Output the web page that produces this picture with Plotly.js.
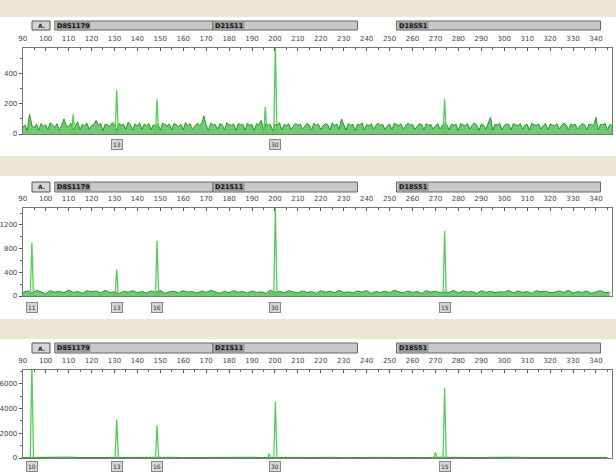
<!DOCTYPE html>
<html><head><meta charset="utf-8">
<script src="https://cdn.plot.ly/plotly-3.0.1.min.js"></script>
<style>html,body{margin:0;padding:0;background:#fff}#chart{width:616px;height:472px}</style>
</head><body><div id="chart"></div>
<script>
// ---------- data ----------
const sizeTicks = [90,100,110,120,130,140,150,160,170,180,190,200,210,220,230,240,250,260,270,280,290,300,310,320,330,340];
const markerNames = ['D8S1179','D21S11','D18S51'];
const markerStart = [104, 173, 253];
const markerEnd   = [173, 236, 342];

// panel 1 baseline noise, 1 bp steps from 90
const p1NoiseStart = 90, p1NoiseStep = 1;
const p1Noise = [
45,60,22,130,58,40,66,25,70,48,62,30,75,58,44,68,22,60,100,55,
48,70,32,54,80,28,66,50,72,30,55,64,90,58,70,22,66,60,48,75,
62,25,70,58,64,30,78,60,26,68,52,74,30,66,55,70,28,62,50,68,
26,72,60,54,66,28,70,62,50,64,28,76,55,68,30,52,70,58,66,120,
60,24,72,58,64,30,68,60,26,74,62,58,66,22,70,60,64,26,72,58,
62,24,68,60,90,26,70,58,64,22,66,60,74,28,62,56,68,30,54,70,
58,66,32,52,70,60,26,72,58,64,30,54,68,62,28,74,56,66,30,100,
62,26,70,58,64,22,66,60,74,28,62,54,68,30,56,72,58,64,30,54,
66,28,70,62,56,68,30,54,72,58,64,30,52,68,62,28,70,56,64,30,
54,68,32,58,72,60,26,66,58,64,22,70,60,56,68,32,58,74,60,24,
66,58,32,70,110,26,64,60,72,28,54,66,62,28,70,60,56,68,32,58,
64,24,72,60,58,66,32,56,70,28,64,60,54,68,32,58,72,60,26,66,
58,64,30,54,70,62,28,66,60,56,110,28,64,60,70,26,62,58];
const p1PeakPos = [112, 131, 148.6, 195.8, 200.2, 274];
const p1PeakHt  = [130, 290, 230, 180, 600, 230];
const p1Alleles = ['13','30'];
const p1AllelePos = [131, 200.2];

// panel 2 baseline noise, 2 bp steps from 90
const p2NoiseStart = 90, p2NoiseStep = 2;
const p2Noise = [
60,85,50,95,70,40,90,65,80,55,100,60,75,45,90,70,85,50,95,60,
70,40,80,65,90,55,75,50,85,60,95,45,70,80,55,90,65,75,50,85,
60,95,70,45,80,55,90,65,75,50,85,60,70,45,95,65,80,55,90,70,
50,85,60,75,45,90,65,80,55,95,60,70,50,85,65,90,45,75,60,80,
55,95,70,50,85,60,75,45,90,65,80,55,70,60,95,50,85,65,75,45,
90,60,80,55,70,65,95,50,85,60,75,45,90,70,80,55,65,85,60,95,
50,75,60,85,45,70,90,55,65];
const p2PeakPos = [94, 131, 148.6, 200.2, 274];
const p2PeakHt  = [900, 450, 930, 1500, 1100];
const p2Alleles = ['11','13','16','30','15'];

// panel 3 baseline noise, 5 bp steps from 90
const p3NoiseStart = 90, p3NoiseStep = 5;
const p3Noise = [
40,60,30,50,70,40,55,35,60,45,50,65,40,55,30,60,45,50,70,40,
55,35,60,45,50,40,65,55,30,60,45,50,40,70,55,35,60,45,50,65,
40,55,30,60,45,50,70,40,55,35,60,45];
const p3PeakPos = [94, 131, 148.6, 197.5, 200.2, 270, 274];
const p3PeakHt  = [7600, 3120, 2640, 350, 4560, 450, 5680];
const p3Alleles = ['10','13','16','30','15'];
const p3AllelePos = [94, 131, 148.6, 200.2, 274];

// ---------- build ----------
const W = 616, H = 472;
function noiseTrace(vals, start, step, ax) {
  return {x: vals.map((v,i)=>start+i*step), y: vals, type:'scatter', mode:'lines',
    line:{color:'#1f9f1f', width:1}, fill:'tozeroy', fillcolor:'rgba(40,170,40,0.65)',
    xaxis:'x'+ax, yaxis:'y'+ax, hoverinfo:'skip', showlegend:false};
}
function peakTrace(pos, ht, ax) {
  const x=[], y=[];
  pos.forEach((p,i)=>{ x.push(p-0.7,p,p+0.7,null); y.push(0,ht[i],0,null); });
  return {x, y, type:'scatter', mode:'lines', line:{color:'#55cc55', width:1.3},
    xaxis:'x'+ax, yaxis:'y'+ax, hoverinfo:'skip', showlegend:false, connectgaps:false};
}
const data = [
  noiseTrace(p1Noise, p1NoiseStart, p1NoiseStep, ''), peakTrace(p1PeakPos, p1PeakHt, ''),
  noiseTrace(p2Noise, p2NoiseStart, p2NoiseStep, '2'), peakTrace(p2PeakPos, p2PeakHt, '2'),
  noiseTrace(p3Noise, p3NoiseStart, p3NoiseStep, '3'), peakTrace(p3PeakPos, p3PeakHt, '3'),
];

const py = v => 1 - v/H, px = v => v/W;
const panels = [
  {ax:'', top:48, bottom:134, range:[0,570], dtick:200, head:[21,30], band:[0,17]},
  {ax:'2', top:208, bottom:296, range:[0,1485], dtick:400, head:[182,192], band:[156,176]},
  {ax:'3', top:370, bottom:458, range:[0,7125], dtick:2000, head:[343,353], band:[319,339]},
];
const layout = {width:W, height:H, margin:{l:0,r:0,t:0,b:0}, paper_bgcolor:'#fff', plot_bgcolor:'#fff',
  showlegend:false, shapes:[], annotations:[], font:{family:'DejaVu Sans, sans-serif'}};

panels.forEach((P,k)=>{
  const xa = 'xaxis'+P.ax, ya = 'yaxis'+P.ax;
  const xr = 'x'+P.ax, yr = 'y'+P.ax;
  layout[xa] = {domain:[px(22.7), px(612)], range:[90,347], side:'top', anchor:yr,
    showline:true, mirror:true, linecolor:'#777', linewidth:1, ticks:'inside', ticklen:3,
    tickcolor:'#555', tickvals:sizeTicks, ticktext:sizeTicks.map(String),
    tickfont:{size:7, color:'#444'}, ticklabelstandoff:3,
    minor:{dtick:5, tick0:90, ticks:'inside', ticklen:2, tickcolor:'#666'},
    showgrid:false, zeroline:false, fixedrange:true};
  layout[ya] = {domain:[py(P.bottom), py(P.top)], range:P.range, anchor:xr,
    showline:true, mirror:true, linecolor:'#777', linewidth:1, ticks:'outside', ticklen:3,
    tickcolor:'#555', dtick:P.dtick, tick0:0, tickfont:{size:7, color:'#444'},
    minor:{dtick:P.dtick/2, ticks:'outside', ticklen:2, tickcolor:'#666'},
    showgrid:false, zeroline:false, fixedrange:true};
  layout.shapes.push({type:'rect', xref:'paper', yref:'paper', x0:0, x1:1, y0:py(P.band[1]), y1:py(P.band[0]),
    fillcolor:'#ede7d6', line:{width:0}, layer:'below'});
  layout.shapes.push({type:'rect', xref:'paper', yref:'paper', x0:px(32), x1:px(50), y0:py(P.head[1]), y1:py(P.head[0]),
    fillcolor:'#d4d4d4', line:{color:'#555', width:1}});
  layout.annotations.push({xref:'paper', yref:'paper', x:px(41), y:py((P.head[0]+P.head[1])/2),
    xanchor:'center', yanchor:'middle', text:'<b>A.</b>', showarrow:false, font:{size:6, color:'#222'}});
  markerNames.forEach((m,i)=>{
    layout.shapes.push({type:'rect', xref:xr, yref:'paper', x0:markerStart[i], x1:markerEnd[i],
      y0:py(P.head[1]), y1:py(P.head[0]), fillcolor:'#c8c8c8', line:{color:'#666', width:1}});
    layout.annotations.push({xref:xr, yref:'paper', x:markerStart[i]+0.6, xanchor:'left',
      y:py((P.head[0]+P.head[1])/2), yanchor:'middle', text:'<b>'+m+'</b>', showarrow:false,
      bgcolor:'#9a9a9a', borderpad:0, font:{size:6.5, color:'#111'}});
  });
});

function alleleLabels(texts, pos, ax, yy) {
  texts.forEach((t,i)=>layout.annotations.push({xref:'x'+ax, yref:'y'+ax+' domain', x:pos[i], y:yy,
    yanchor:'middle', text:t, showarrow:false, bgcolor:'#d6d6d6', bordercolor:'#888', borderwidth:1,
    borderpad:1, font:{size:6, color:'#333'}}));
}
alleleLabels(p1Alleles, p1AllelePos, '', -0.12);
alleleLabels(p2Alleles, p2PeakPos, '2', -0.125);
alleleLabels(p3Alleles, p3AllelePos, '3', -0.1);

Plotly.newPlot('chart', data, layout, {staticPlot:true, displayModeBar:false});
</script></body></html>
